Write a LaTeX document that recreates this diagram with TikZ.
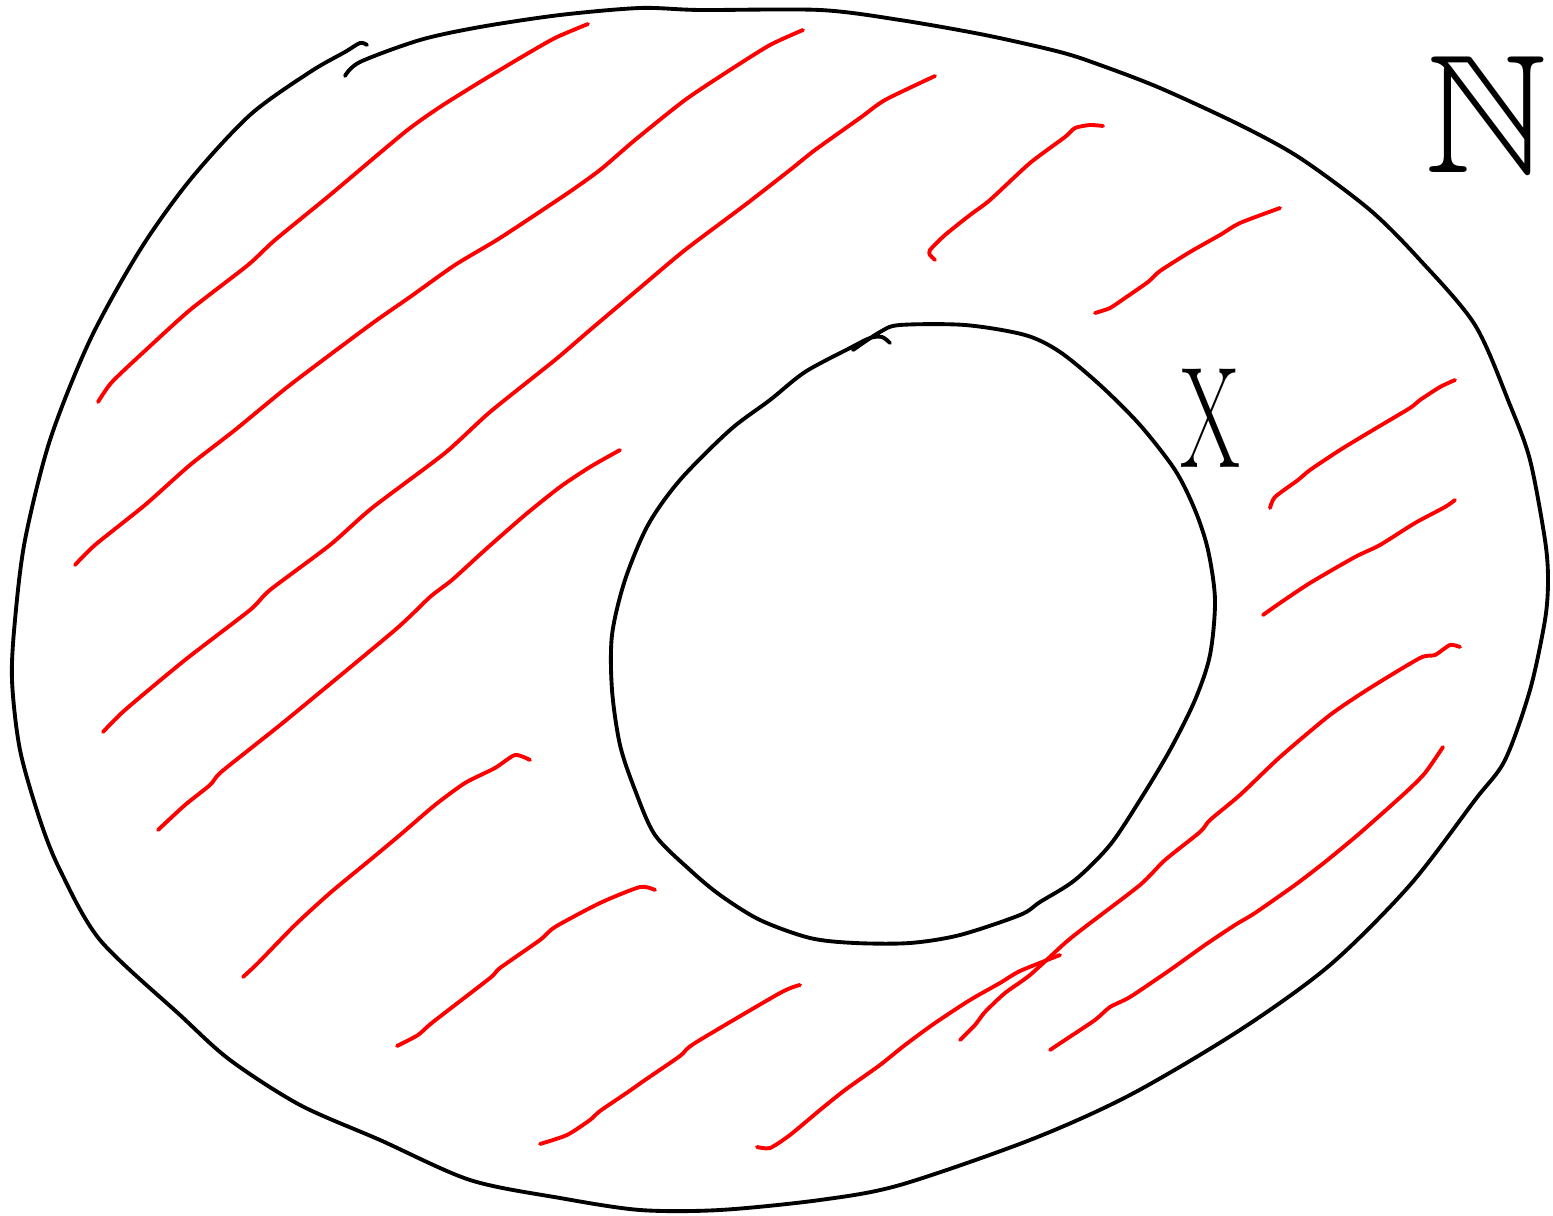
\documentclass[tikz,border=0pt]{standalone}
\usepackage{fontspec}
\usepackage{amssymb}
\tikzset{
  rim/.style={black, line width=2.2pt, line cap=round, line join=round},
  hatch/.style={red, line width=2.2pt, line cap=round, line join=round},
}
\begin{document}
\begin{tikzpicture}[x=0.02cm, y=-0.02cm]
  \useasboundingbox (0,0) rectangle (1553,1216);
  % outer boundary
  \draw[rim] plot[smooth, tension=0.5] coordinates {(345,76) (360,62) (420,40) (480,27) (560,15) (640,8) (700,10) (820,10) (900,20) (985,35) (1060,52) (1100,65) (1160,88) (1240,125) (1300,158) (1370,210) (1420,260) (1475,325) (1510,405) (1530,460) (1545,540) (1548,580) (1545,620) (1530,690) (1505,760) (1475,800) (1410,885) (1330,965) (1240,1030) (1130,1095) (1030,1140) (900,1185) (820,1200) (720,1210) (640,1210) (560,1198) (470,1180) (380,1140) (300,1105) (230,1060) (180,1015) (100,940) (60,870) (40,820) (20,750) (12,680) (15,620) (25,540) (50,440) (90,340) (140,250) (190,180) (250,115) (310,72) (345,52) (360,43) (367,45)};
  % inner boundary
  \draw[rim] plot[smooth, tension=0.5] coordinates {(853,350) (880,332) (900,325) (965,325) (1025,335) (1060,352) (1100,385) (1140,425) (1175,470) (1195,510) (1208,550) (1215,600) (1210,655) (1195,700) (1170,750) (1140,800) (1110,845) (1075,880) (1040,902) (1020,915) (960,935) (910,943) (855,943) (810,938) (760,920) (720,895) (690,870) (655,835) (635,790) (620,745) (612,690) (612,635) (625,580) (648,525) (680,480) (730,430) (770,400) (805,372) (850,348) (870,338) (882,337) (890,343)};
  % hatching
  \draw[hatch] plot[smooth, tension=0.4] coordinates {(98,402) (112,382) (148,348) (190,310) (248,265) (275,240) (330,195) (405,132) (440,107) (480,82) (520,58) (555,38) (588,24)};
  \draw[hatch] plot[smooth, tension=0.4] coordinates {(75,565) (95,545) (145,505) (190,465) (235,430) (290,385) (370,325) (410,297) (455,265) (500,238) (565,195) (600,170) (635,140) (685,100) (730,70) (770,45) (803,30)};
  \draw[hatch] plot[smooth, tension=0.4] coordinates {(103,732) (125,710) (185,660) (250,610) (270,590) (330,545) (372,508) (445,453) (490,412) (555,360) (590,330) (635,292) (685,250) (745,205) (790,170) (815,150) (860,118) (885,100) (935,76)};
  \draw[hatch] plot[smooth, tension=0.4] coordinates {(158,830) (185,805) (210,785) (220,773) (255,745) (290,717) (395,630) (430,597) (452,580) (485,550) (525,515) (560,487) (590,467) (620,450)};
  \draw[hatch] plot[smooth, tension=0.4] coordinates {(243,977) (258,963) (295,925) (330,893) (370,860) (400,835) (435,805) (465,783) (495,768) (515,755) (530,760)};
  \draw[hatch] plot[smooth, tension=0.4] coordinates {(397,1046) (418,1035) (433,1022) (490,978) (500,968) (540,940) (555,927) (600,903) (640,887) (655,890)};
  \draw[hatch] plot[smooth, tension=0.4] coordinates {(540,1144) (567,1135) (590,1120) (600,1111) (628,1092) (645,1080) (680,1056) (695,1043) (780,993) (800,985)};
  \draw[hatch] plot[smooth, tension=0.4] coordinates {(757,1147) (770,1148) (790,1135) (820,1110) (845,1090) (880,1065) (905,1045) (935,1023) (970,1000) (1000,983) (1020,971) (1060,955)};
  \draw[hatch] plot[smooth, tension=0.4] coordinates {(960,1040) (975,1025) (985,1012) (1005,993) (1030,975) (1065,943) (1085,927) (1140,885) (1165,860) (1200,832) (1210,820) (1240,795) (1280,757) (1330,715) (1370,688) (1420,658) (1435,655) (1450,645) (1460,647)};
  \draw[hatch] plot[smooth, tension=0.4] coordinates {(1050,1050) (1065,1040) (1095,1020) (1110,1007) (1130,997) (1170,970) (1205,945) (1235,925) (1255,913) (1295,885) (1325,862) (1360,833) (1405,793) (1425,773) (1443,747)};
  \draw[hatch] plot[smooth, tension=0.4] coordinates {(1263,615) (1280,603) (1310,583) (1355,557) (1380,545) (1415,523) (1445,507) (1455,500)};
  \draw[hatch] plot[smooth, tension=0.4] coordinates {(1270,508) (1275,497) (1298,480) (1310,470) (1340,450) (1373,430) (1410,408) (1420,400) (1440,387) (1455,380)};
  \draw[hatch] plot[smooth, tension=0.4] coordinates {(1095,313) (1110,308) (1125,298) (1148,282) (1160,271) (1190,252) (1220,235) (1240,223) (1280,208)};
  \draw[hatch] plot[smooth, tension=0.4] coordinates {(935,260) (930,255) (930,250) (945,235) (970,215) (990,200) (1030,163) (1065,137) (1075,128) (1090,125) (1103,126)};
  % labels
  \node[xscale=0.6, inner sep=0pt] (labelX) at (1210,418) {\fontsize{82}{82}\selectfont X};
  \node[inner sep=0pt] (labelN) at (1486,114) {\fontsize{96}{96}\selectfont $\mathbb{N}$};
\end{tikzpicture}
\end{document}
